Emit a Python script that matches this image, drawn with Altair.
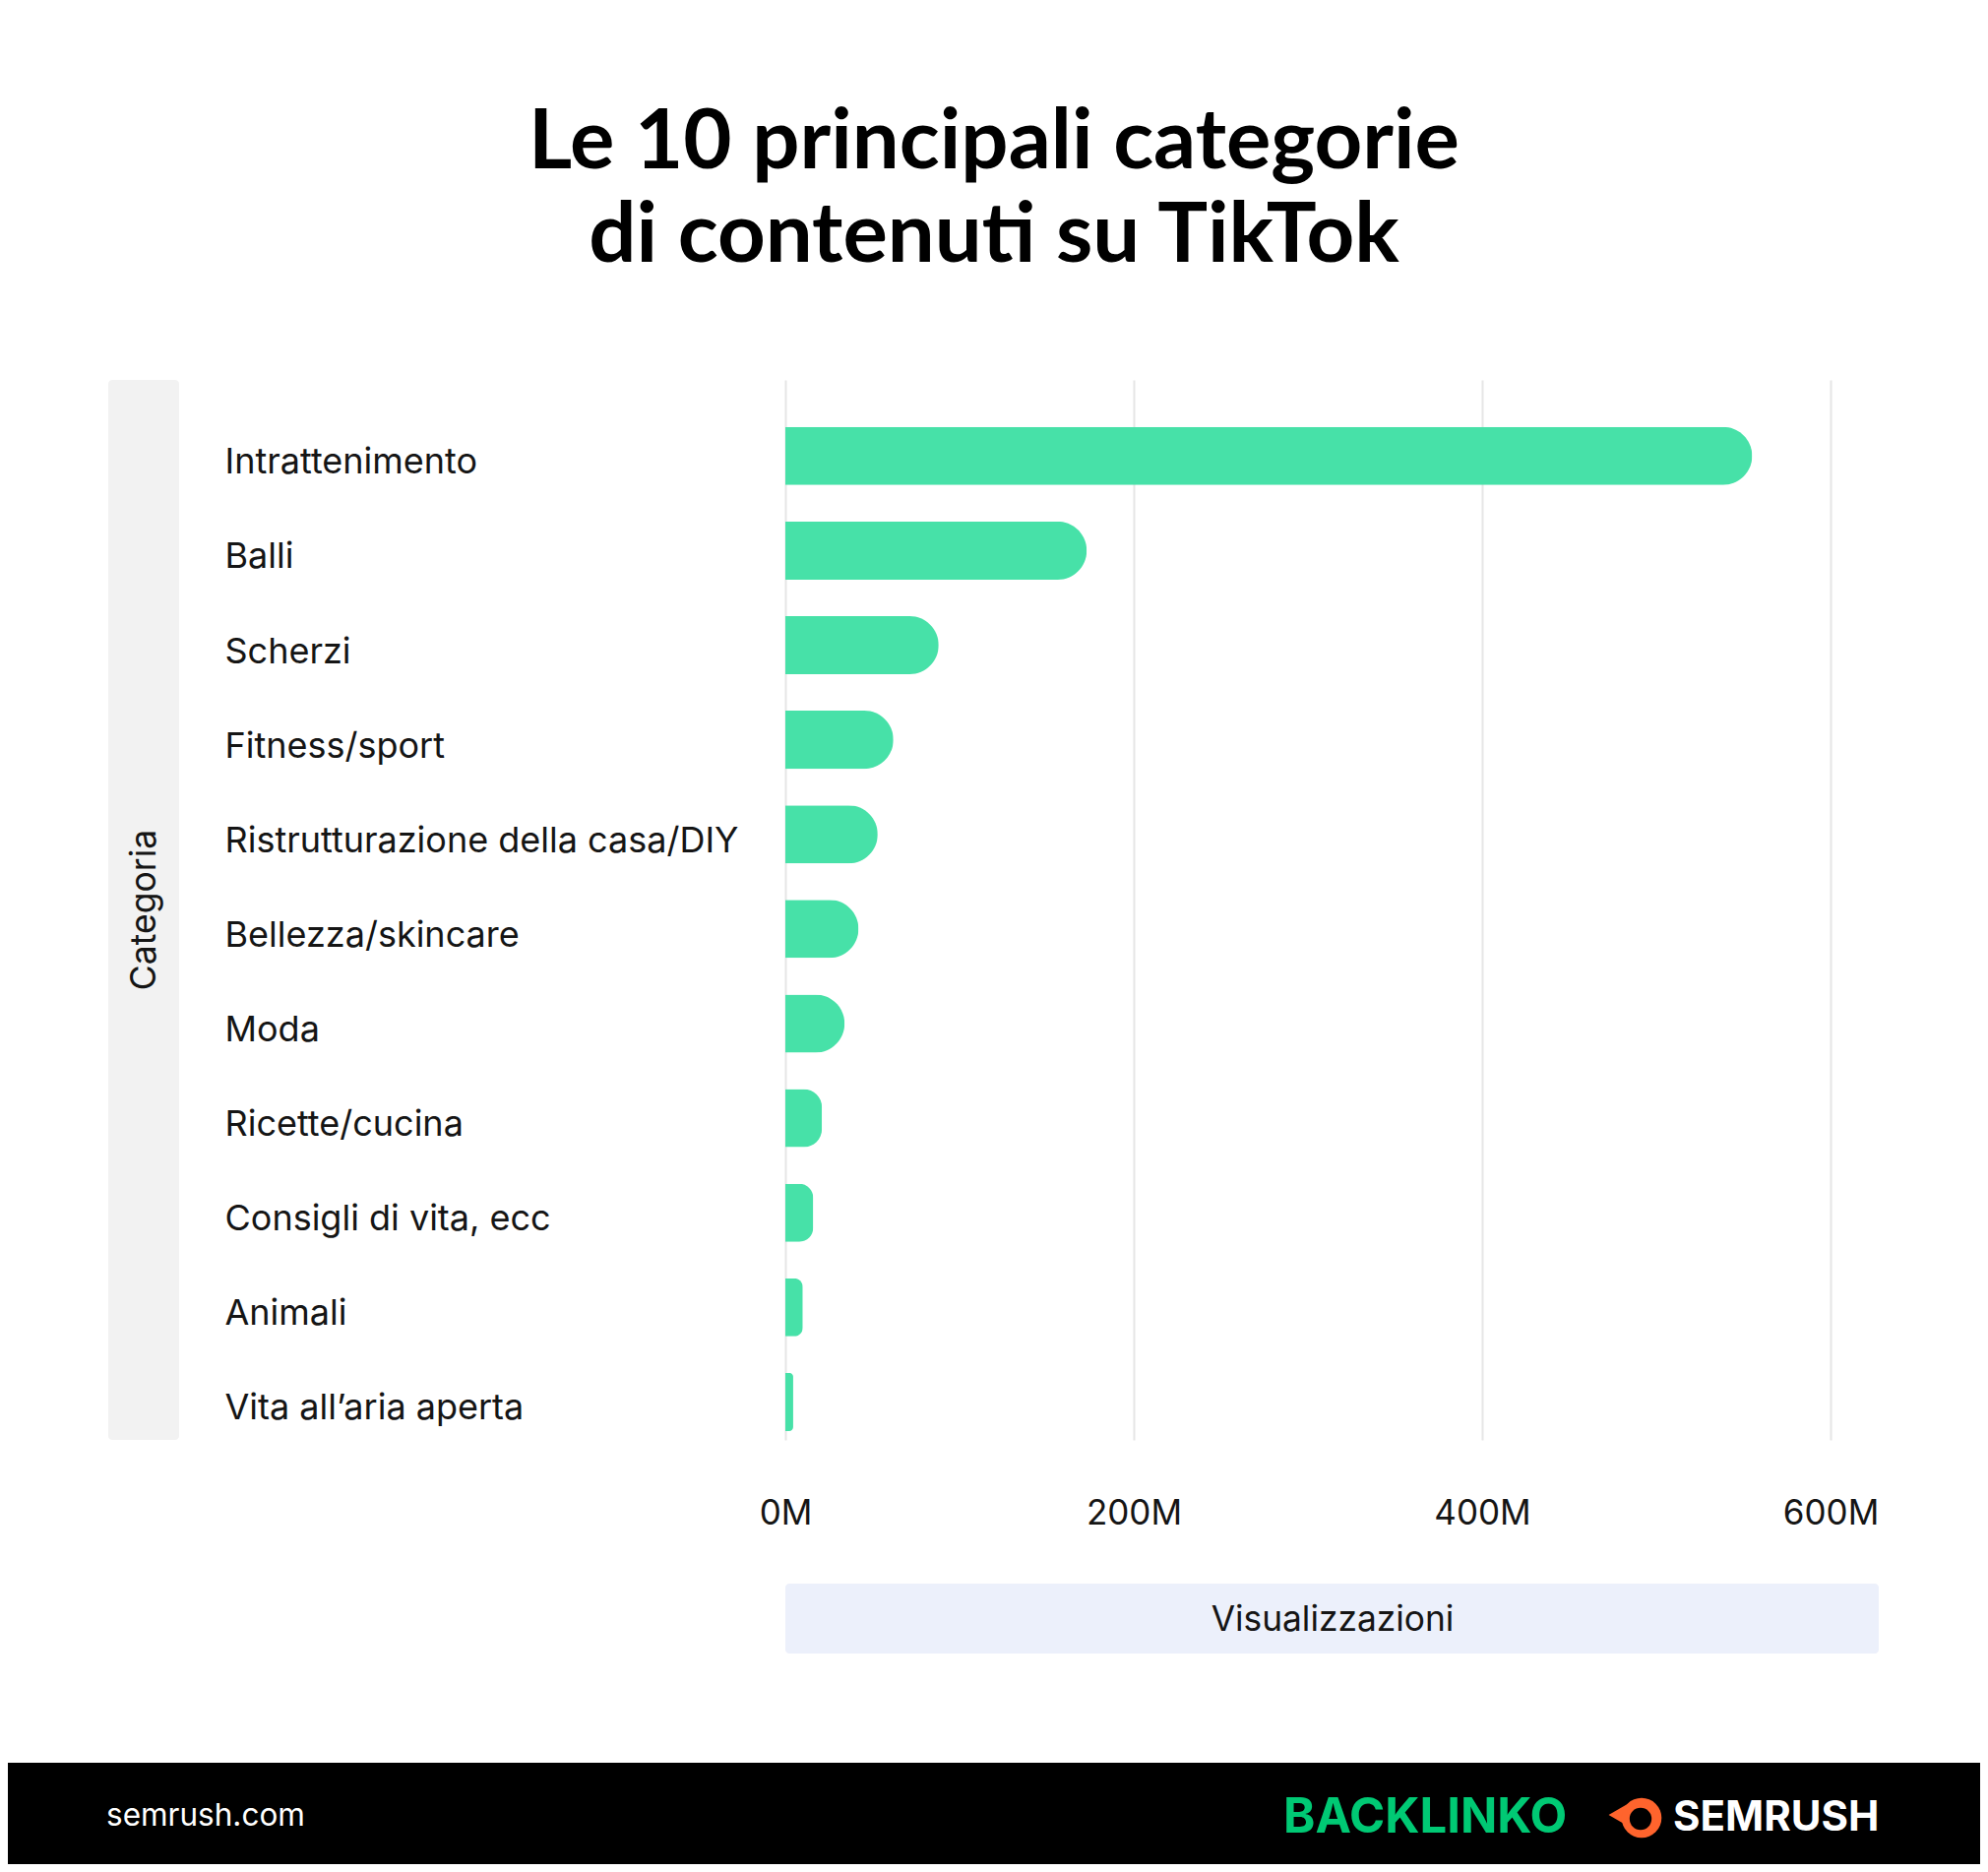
import altair as alt
import pandas as pd

# ---------------- data ----------------
categories = [
    "Intrattenimento",
    "Balli",
    "Scherzi",
    "Fitness/sport",
    "Ristrutturazione della casa/DIY",
    "Bellezza/skincare",
    "Moda",
    "Ricette/cucina",
    "Consigli di vita, ecc",
    "Animali",
    "Vita all’aria aperta",
]
views = [555e6, 173e6, 88e6, 62e6, 53e6, 42e6, 34e6, 21e6, 16e6, 10e6, 4.5e6]
x_ticks = [0, 200e6, 400e6, 600e6]
title_lines = ["Le 10 principali categorie", "di contenuti su TikTok"]
y_title = ["Categoria"]
x_title = ["Visualizzazioni"]
footer_site = ["semrush.com"]
logo_backlinko = ["BACKLINKO"]
logo_semrush = ["SEMRUSH"]

# ---------------- layout ----------------
W, H = 1062, 1077
PAD_L, PAD_T = 790, 378
TOTAL_W, TOTAL_H = 2004, 1886
PAD_R = TOTAL_W - PAD_L - W
PAD_B = TOTAL_H - PAD_T - H
FONT = "Inter"
TXT = "#151515"

df = pd.DataFrame({"cat": categories, "views": views})

bars = alt.Chart(df).mark_bar(color="#47E1A8", cornerRadiusEnd=30).encode(
    y=alt.Y(
        "cat:N",
        sort=categories,
        scale=alt.Scale(paddingInner=0.386, paddingOuter=0.296, align=0.84),
        axis=alt.Axis(
            title=None,
            labelAlign="left",
            labelBaseline="middle",
            labelPadding=570,
            labelOffset=7,
            ticks=False,
            tickSize=0,
            domain=False,
            grid=False,
            labelFont=FONT,
            labelFontSize=36,
            labelColor=TXT,
            labelLimit=0,
        ),
    ),
    x=alt.X(
        "views:Q",
        scale=alt.Scale(domain=[0, 600e6], nice=False),
        axis=alt.Axis(
            title=None,
            values=x_ticks,
            labelExpr="format(datum.value / 1000000, 'd') + 'M'",
            labelFlush=False,
            labelBaseline="middle",
            labelPadding=74,
            ticks=False,
            tickSize=0,
            domain=False,
            grid=True,
            gridColor="#E6E6E6",
            gridWidth=2,
            labelFont=FONT,
            labelFontSize=35,
            labelColor=TXT,
        ),
    ),
)

one = pd.DataFrame({"k": [0]})

ybox = alt.Chart(one).mark_rect(color="#F2F2F2", cornerRadius=4).encode(
    x=alt.value(-688), x2=alt.value(-616), y=alt.value(0), y2=alt.value(H)
)
ytitle = alt.Chart(pd.DataFrame({"t": y_title})).mark_text(
    font=FONT, fontSize=35.5, color=TXT, angle=270, align="center", baseline="middle"
).encode(text="t:N", x=alt.value(-651), y=alt.value(H / 2))

xbox = alt.Chart(one).mark_rect(color="#ECF0FB", cornerRadius=4).encode(
    x=alt.value(0), x2=alt.value(1111), y=alt.value(1223), y2=alt.value(1294)
)
xtitle = alt.Chart(pd.DataFrame({"t": x_title})).mark_text(
    font=FONT, fontSize=35.3, color=TXT, align="center", baseline="middle"
).encode(text="t:N", x=alt.value(556), y=alt.value(1260))

title_df = pd.DataFrame({"t": title_lines, "line": [0, 1]})
title = alt.Chart(title_df).mark_text(
    font="Lato", fontSize=85, fontWeight="bold", color="#000000", align="center", baseline="alphabetic"
).encode(
    text="t:N",
    x=alt.value(212),
    y=alt.Y("line:Q", scale=alt.Scale(domain=[0, 1], range=[-215, -120]), axis=None),
)

footer = alt.Chart(one).mark_rect(color="#000000").encode(
    x=alt.value(-PAD_L), x2=alt.value(W + PAD_R), y=alt.value(1405), y2=alt.value(H + PAD_B)
)
site = alt.Chart(pd.DataFrame({"t": footer_site})).mark_text(
    font=FONT, fontSize=31.5, color="#FFFFFF", align="left", baseline="middle"
).encode(text="t:N", x=alt.value(-690), y=alt.value(1460))
backlinko = alt.Chart(pd.DataFrame({"t": logo_backlinko})).mark_text(
    font=FONT, fontSize=49, fontWeight="bold", color="#00C974", align="left", baseline="middle"
).encode(text="t:N", x=alt.value(506), y=alt.value(1461))
flame = alt.Chart(one).mark_point(shape="triangle-left", filled=True, opacity=1, color="#FF642D", size=700).encode(
    x=alt.value(848), y=alt.value(1458)
)
ball = alt.Chart(one).mark_point(shape="circle", filled=True, opacity=1, color="#FF642D", size=1650).encode(
    x=alt.value(870), y=alt.value(1461)
)
hole = alt.Chart(one).mark_point(shape="circle", filled=True, opacity=1, color="#000000", size=500).encode(
    x=alt.value(869), y=alt.value(1462)
)
semrush = alt.Chart(pd.DataFrame({"t": logo_semrush})).mark_text(
    font=FONT, fontSize=42, fontWeight="bold", color="#FFFFFF", align="left", baseline="middle"
).encode(text="t:N", x=alt.value(902), y=alt.value(1461))

chart = alt.layer(
    ybox, xbox, bars, ytitle, xtitle, title, footer, site, backlinko, flame, ball, hole, semrush
).resolve_scale(y="independent").properties(
    width=W,
    height=H,
    padding={"left": PAD_L, "top": PAD_T, "right": PAD_R, "bottom": PAD_B},
    autosize=alt.AutoSizeParams(type="none"),
    background="#FFFFFF",
).configure_view(stroke=None)

chart.save("out.html", embed_options={"renderer": "svg", "actions": False})
